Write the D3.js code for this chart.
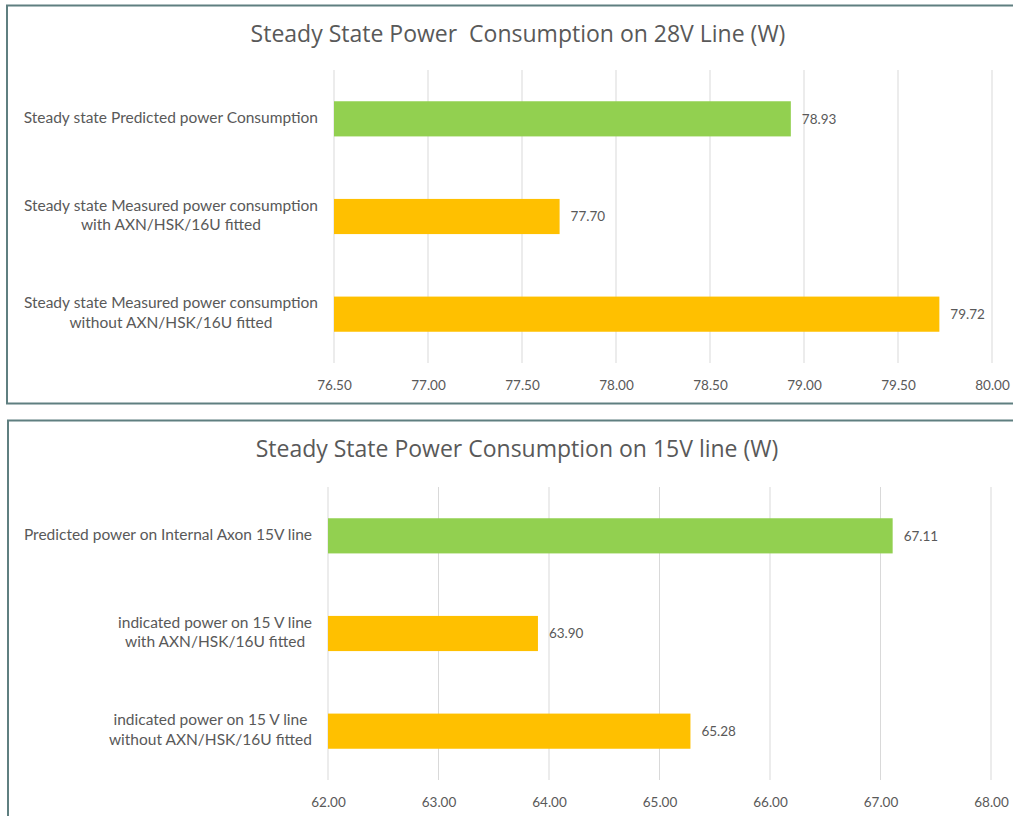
<!DOCTYPE html>
<html>
<head>
<meta charset="utf-8">
<script src="https://cdn.jsdelivr.net/npm/d3@7"></script>
<style>
  html, body { margin: 0; padding: 0; background: #ffffff; }
  svg { display: block; }
</style>
</head>
<body>
<svg id="chart" width="1013" height="816"></svg>
<script>
// 28 V line
const line28Title = "Steady State Power\u00a0\u00a0Consumption on 28V Line (W)";
const line28Categories = [
  ["Steady state Predicted power Consumption"],
  ["Steady state Measured power consumption", "with AXN/HSK/16U fitted"],
  ["Steady state Measured power consumption", "without AXN/HSK/16U fitted"]
];
const line28Kinds = ["predicted", "measured", "measured"];
const line28Values = [78.93, 77.70, 79.72];
const line28Ticks = [76.5, 77.0, 77.5, 78.0, 78.5, 79.0, 79.5, 80.0];

// 15 V line
const line15Title = "Steady State Power Consumption on 15V line (W)";
const line15Categories = [
  ["Predicted power on Internal Axon 15V line"],
  ["indicated power on 15 V line", "with AXN/HSK/16U fitted"],
  ["indicated power on 15 V line", "without AXN/HSK/16U fitted"]
];
const line15Kinds = ["predicted", "measured", "measured"];
const line15Values = [67.11, 63.90, 65.28];
const line15Ticks = [62, 63, 64, 65, 66, 67, 68];

const kindColor = d3.scaleOrdinal()
  .domain(["predicted", "measured"])
  .range(["#92d050", "#ffc000"]);

const svg = d3.select("#chart");
svg.append("rect").attr("width", 1013).attr("height", 816).attr("fill", "#ffffff");

const textColor = "#595959";
const labelFont = "Lato, 'Open Sans', sans-serif";

function drawPanel(opt) {
  const g = svg.append("g");

  // panel frame
  g.append("rect")
    .attr("x", opt.frame.x).attr("y", opt.frame.y)
    .attr("width", opt.frame.w).attr("height", opt.frame.h)
    .attr("fill", "#ffffff")
    .attr("stroke", "#5f7f80").attr("stroke-width", 2);

  const x = d3.scaleLinear().domain(opt.domain).range([opt.plot.left, opt.plot.right]);
  const idx = opt.values.map((_, i) => i);
  const y = d3.scaleBand().domain(idx).range([opt.plot.top, opt.plot.bottom]).paddingInner(0.64).paddingOuter(0.32);

  // title
  g.append("text")
    .attr("x", opt.titleX).attr("y", opt.titleY)
    .attr("text-anchor", "middle")
    .attr("font-family", "'Open Sans', sans-serif")
    .attr("font-size", 23)
    .attr("fill", textColor)
    .text(opt.title);

  // vertical gridlines
  g.append("g").selectAll("line").data(opt.ticks).join("line")
    .attr("x1", d => x(d)).attr("x2", d => x(d))
    .attr("y1", opt.plot.top).attr("y2", opt.plot.bottom)
    .attr("stroke", "#d9d9d9").attr("stroke-width", 1);

  // x axis tick labels
  const axis = d3.axisBottom(x).tickValues(opt.ticks).tickFormat(d3.format(".2f")).tickSize(0).tickPadding(0);
  const ax = g.append("g").attr("transform", `translate(0,${opt.tickY})`).call(axis);
  ax.select(".domain").remove();
  ax.selectAll("text")
    .attr("dy", 0)
    .attr("font-family", labelFont).attr("font-size", 13.5)
    .attr("fill", textColor);

  // bars
  g.append("g").selectAll("rect").data(opt.values).join("rect")
    .attr("x", x(opt.domain[0]))
    .attr("y", (d, i) => y(i))
    .attr("width", d => x(d) - x(opt.domain[0]))
    .attr("height", y.bandwidth())
    .attr("fill", (d, i) => kindColor(opt.kinds[i]));

  // value labels
  g.append("g").selectAll("text").data(opt.values).join("text")
    .attr("x", d => x(d) + 11)
    .attr("y", (d, i) => y(i) + y.bandwidth() / 2)
    .attr("dy", "0.35em")
    .attr("font-family", labelFont).attr("font-size", 13.5)
    .attr("fill", textColor)
    .text(d => d3.format(".2f")(d));

  // category labels (multi-line, centred on a common block right-aligned to the axis)
  opt.categories.forEach((lines, i) => {
    const cy = y(i) + y.bandwidth() / 2;
    const t = g.append("text")
      .attr("font-family", labelFont).attr("font-size", 15.5)
      .attr("fill", textColor)
      .attr("text-anchor", "middle");
    const lh = 19.5;
    const spans = lines.map((s, k) => t.append("tspan")
      .attr("y", cy + (k - (lines.length - 1) / 2) * lh - 1.5)
      .attr("dy", "0.35em")
      .text(s));
    const widths = spans.map(s => s.node().getComputedTextLength());
    const wmax = d3.max(widths);
    const cx = opt.labelRight - wmax / 2;
    spans.forEach(s => s.attr("x", cx));
  });
}

drawPanel({
  frame: { x: 7, y: 5.5, w: 1020, h: 398 },
  title: line28Title, titleX: 518, titleY: 42,
  categories: line28Categories, kinds: line28Kinds, values: line28Values,
  ticks: line28Ticks, domain: [76.5, 80],
  plot: { left: 334, right: 992, top: 70, bottom: 363 },
  tickY: 390, labelRight: 318
});

drawPanel({
  frame: { x: 8, y: 420.5, w: 1020, h: 420 },
  title: line15Title, titleX: 517, titleY: 457,
  categories: line15Categories, kinds: line15Kinds, values: line15Values,
  ticks: line15Ticks, domain: [62, 68],
  plot: { left: 328, right: 991, top: 487, bottom: 780 },
  tickY: 807, labelRight: 312
});
</script>
</body>
</html>
